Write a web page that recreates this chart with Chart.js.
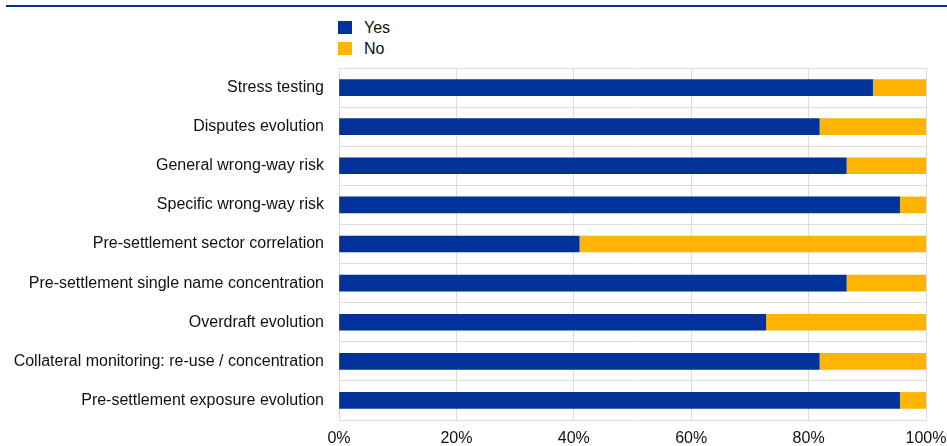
<!DOCTYPE html>
<html>
<head>
<meta charset="utf-8">
<script src="https://cdn.jsdelivr.net/npm/chart.js@4.4.1/dist/chart.umd.min.js"></script>
<style>
  html, body { margin: 0; padding: 0; background: #fff; }
  #wrap { position: relative; width: 947px; height: 446px; font-family: "Liberation Sans", Arial, sans-serif; }
  #topRule { position: absolute; left: 6px; top: 5px; width: 941px; height: 2px; background: #003299; }
  #legend { position: absolute; left: 338px; top: 17px; font-size: 16px; color: #111; }
  #legend .item { display: flex; align-items: center; height: 21px; }
  #legend .sw { width: 14px; height: 13px; margin-right: 12px; }
  canvas { position: absolute; left: 0; top: 0; }
</style>
</head>
<body>
<div id="wrap">
  <div id="topRule"></div>
  <div id="legend"></div>
  <canvas id="c" width="947" height="446"></canvas>
</div>
<script>
// Survey answers per monitoring area, share of respondents (%)
const categories = [
  'Stress testing',
  'Disputes evolution',
  'General wrong-way risk',
  'Specific wrong-way risk',
  'Pre-settlement sector correlation',
  'Pre-settlement single name concentration',
  'Overdraft evolution',
  'Collateral monitoring: re-use / concentration',
  'Pre-settlement exposure evolution'
];
const yesValues = [90.9, 81.8, 86.4, 95.5, 40.9, 86.4, 72.7, 81.8, 95.5];
const noValues  = [9.1, 18.2, 13.6, 4.5, 59.1, 13.6, 27.3, 18.2, 4.5];
const seriesNames = ['Yes', 'No'];
const seriesColors = ['#003299', '#FFB400'];
const xTicks = [0, 20, 40, 60, 80, 100];

const datasets = [yesValues, noValues].map((vals, i) => ({
  label: seriesNames[i],
  data: vals,
  backgroundColor: seriesColors[i],
  borderWidth: 0,
  barThickness: 16
}));

// legend as a vertical list
const legendEl = document.getElementById('legend');
datasets.forEach(ds => {
  const item = document.createElement('div');
  item.className = 'item';
  const sw = document.createElement('span');
  sw.className = 'sw';
  sw.style.background = ds.backgroundColor;
  const txt = document.createElement('span');
  txt.textContent = ds.label;
  item.appendChild(sw);
  item.appendChild(txt);
  legendEl.appendChild(item);
});

const font = { family: '"Liberation Sans", Arial, sans-serif', size: 16 };

new Chart(document.getElementById('c'), {
  type: 'bar',
  data: { labels: categories, datasets },
  options: {
    indexAxis: 'y',
    responsive: false,
    animation: false,
    layout: { padding: { top: 68, right: 21, bottom: 0, left: 0 } },
    plugins: { legend: { display: false }, tooltip: { enabled: false } },
    scales: {
      x: {
        stacked: true,
        min: 0,
        max: 100,
        afterBuildTicks: axis => { axis.ticks = xTicks.map(v => ({ value: v })); },
        afterFit: axis => {
          axis.height = 26;
          // let the end labels overhang into the page margin
          axis.paddingLeft = 0;
          axis.paddingRight = 0;
        },
        border: { display: false },
        grid: { color: '#dcdcdc', lineWidth: 1, drawTicks: false },
        ticks: { font, color: '#111', padding: 9, callback: v => v + '%' }
      },
      y: {
        stacked: true,
        afterFit: axis => { axis.width = 339; },
        border: { display: false },
        grid: { color: '#dcdcdc', lineWidth: 1, drawTicks: false },
        ticks: { font, color: '#111', padding: 15 }
      }
    }
  }
});
</script>
</body>
</html>
